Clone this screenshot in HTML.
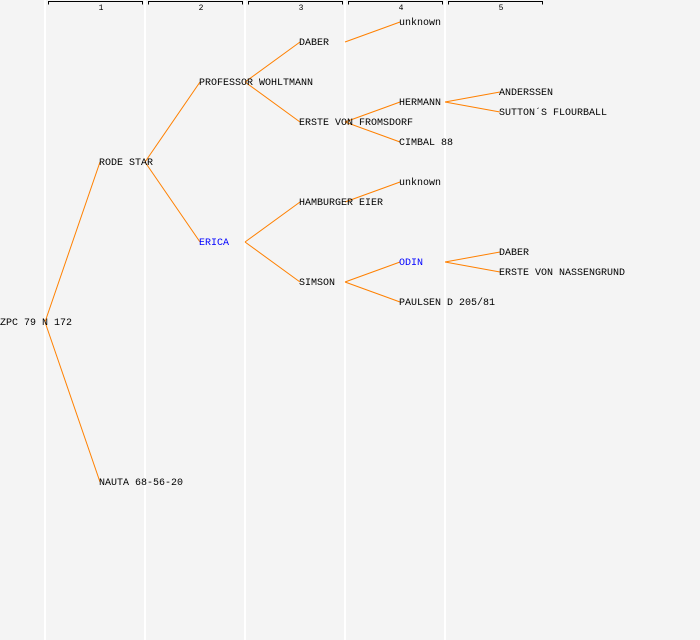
<!DOCTYPE html>
<html><head><style>html,body{margin:0;padding:0;background:#f4f4f4}svg{display:block}text{font-family:"Liberation Mono",monospace;font-size:10px;fill:#000}</style></head>
<body>
<svg width="700" height="640" xmlns="http://www.w3.org/2000/svg">
<rect width="700" height="640" fill="#f4f4f4"/>
<g stroke="#ffffff" stroke-width="2">
<line x1="45" y1="0" x2="45" y2="640"/><line x1="145" y1="0" x2="145" y2="640"/><line x1="245" y1="0" x2="245" y2="640"/><line x1="345" y1="0" x2="345" y2="640"/><line x1="445" y1="0" x2="445" y2="640"/>
</g>
<g stroke="#000" stroke-width="1" fill="none">
<path d="M48.5 4.5V1.5H142.5V4.5"/><path d="M148.5 4.5V1.5H242.5V4.5"/><path d="M248.5 4.5V1.5H342.5V4.5"/><path d="M348.5 4.5V1.5H442.5V4.5"/><path d="M448.5 4.5V1.5H542.5V4.5"/>
</g>
<g text-anchor="middle">
<text x="101" y="10" style="font-size:8px">1</text><text x="201" y="10" style="font-size:8px">2</text><text x="301" y="10" style="font-size:8px">3</text><text x="401" y="10" style="font-size:8px">4</text><text x="501" y="10" style="font-size:8px">5</text>
</g>
<g stroke="#ff8000" stroke-width="1" fill="none">
<path d="M45 322L100 162M45 322L100 482"/>
<path d="M145 162L200 82M145 162L200 242"/>
<path d="M245 82L300 42M245 82L300 122"/>
<path d="M245 242L300 202M245 242L300 282"/>
<path d="M345 42L400 22"/>
<path d="M345 122L400 102M345 122L400 142"/>
<path d="M345 202L400 182"/>
<path d="M345 282L400 262M345 282L400 302"/>
<path d="M445 102L500 92M445 102L500 112"/>
<path d="M445 262L500 252M445 262L500 272"/>
</g>
<text x="0" y="325">ZPC 79 N 172</text>
<text x="99" y="165">RODE STAR</text>
<text x="99" y="485">NAUTA 68-56-20</text>
<text x="199" y="85">PROFESSOR WOHLTMANN</text>
<text x="199" y="245" style="fill:#0000ff">ERICA</text>
<text x="299" y="45">DABER</text>
<text x="299" y="125">ERSTE VON FROMSDORF</text>
<text x="299" y="205">HAMBURGER EIER</text>
<text x="299" y="285">SIMSON</text>
<text x="399" y="25">unknown</text>
<text x="399" y="105">HERMANN</text>
<text x="399" y="145">CIMBAL 88</text>
<text x="399" y="185">unknown</text>
<text x="399" y="265" style="fill:#0000ff">ODIN</text>
<text x="399" y="305">PAULSEN D 205/81</text>
<text x="499" y="95">ANDERSSEN</text>
<text x="499" y="115">SUTTON´S FLOURBALL</text>
<text x="499" y="255">DABER</text>
<text x="499" y="275">ERSTE VON NASSENGRUND</text>
</svg>
</body></html>
